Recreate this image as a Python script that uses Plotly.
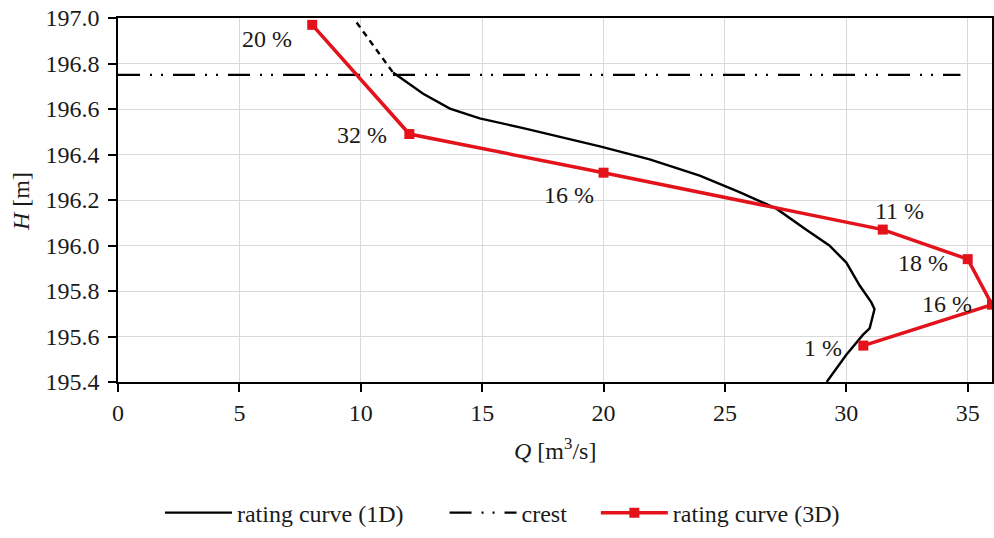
import plotly.graph_objects as go

# ---- data ----
# 1D rating curve (solid part) : discharge Q [m3/s], water level H [m]
q_1d = [11.33, 12.57, 13.67, 14.9, 16.69, 18.47, 19.85, 21.9, 23.96, 25.6,
        27.12, 28.35, 29.3, 30.0, 30.55, 31.03, 31.16, 30.96, 30.69, 30.0, 29.19]
h_1d = [196.76, 196.667, 196.602, 196.559, 196.516, 196.472, 196.436, 196.379,
        196.307, 196.235, 196.162, 196.069, 196.0, 195.925, 195.824, 195.75,
        195.72, 195.636, 195.608, 195.52, 195.40]
# 1D rating curve extension above crest (dashed)
q_1d_ext = [9.83, 11.33]
h_1d_ext = [196.98, 196.76]
# crest level
q_crest = [0.0, 34.7]
h_crest = [196.75, 196.75]
# 3D rating curve
q_3d = [8.0, 12.0, 20.0, 31.5, 35.0, 36.0, 30.7]
h_3d = [196.97, 196.49, 196.32, 196.07, 195.94, 195.74, 195.56]
labels_3d = ["20 %", "32 %", "16 %", "11 %", "18 %", "16 %", "1 %"]

x_ticks = [0, 5, 10, 15, 20, 25, 30, 35]
y_ticks = [195.4, 195.6, 195.8, 196.0, 196.2, 196.4, 196.6, 196.8, 197.0]

# label offsets in pixels (style)
lab_dx = [-45, -47, -35, 17, -45, -45, -40]
lab_dy = [-14, -1, -22, 19, -4, 1, -2]

FONT = "Liberation Serif"
FS = 24
RED = "#e3121b"
TXT = "#1a1a1a"
NB = "\u00a0"

fig = go.Figure()
fig.add_trace(go.Scatter(x=q_1d, y=h_1d, mode="lines", name="rating curve (1D)" + NB * 6,
                         line=dict(color="black", width=2.4)))
fig.add_trace(go.Scatter(x=q_1d_ext, y=h_1d_ext, mode="lines", showlegend=False,
                         line=dict(color="black", width=2.4, dash="6px,5px")))
fig.add_trace(go.Scatter(x=q_crest, y=h_crest, mode="lines", name="crest" + NB * 4,
                         line=dict(color="black", width=2.2,
                                   dash="22px,10px,2px,9px,2px,10px")))
fig.add_trace(go.Scatter(x=q_3d, y=h_3d, mode="lines+markers", name="rating curve (3D)",
                         line=dict(color=RED, width=3.5),
                         marker=dict(symbol="square", size=10, color=RED),
                         cliponaxis=False))

for q, h, t, dx, dy in zip(q_3d, h_3d, labels_3d, lab_dx, lab_dy):
    fig.add_annotation(x=q, y=h, text=t, showarrow=False, xshift=dx, yshift=dy,
                       xanchor="center", yanchor="middle",
                       font=dict(family=FONT, size=FS, color=TXT))

axis_common = dict(showline=True, linecolor="black", linewidth=1.5, mirror=True,
                   showgrid=True, gridcolor="#d9d9d9", gridwidth=1,
                   ticks="outside", ticklen=8, tickcolor="black", tickwidth=1.5,
                   tickfont=dict(family=FONT, size=FS, color=TXT), zeroline=False,
                   automargin=False)

fig.update_layout(
    width=994, height=538,
    margin=dict(l=118, r=2, t=18, b=150),
    paper_bgcolor="white", plot_bgcolor="white",
    xaxis=dict(range=[0, 36], tickvals=x_ticks, **axis_common),
    yaxis=dict(range=[195.4, 197.0], tickvals=y_ticks, tickformat=".1f",
               ticklabelstandoff=4, **axis_common),
    xaxis2=dict(range=[0, 36], overlaying="x", anchor="y", side="bottom",
                tickvals=x_ticks, ticks="inside", ticklen=6, tickcolor="black",
                tickwidth=1.5, showticklabels=False, showgrid=False, showline=False,
                zeroline=False, automargin=False),
    yaxis2=dict(range=[195.4, 197.0], overlaying="y", anchor="x", side="left",
                tickvals=y_ticks, ticks="inside", ticklen=8, tickcolor="black",
                tickwidth=1.5, showticklabels=False, showgrid=False, showline=False,
                zeroline=False, automargin=False),
    showlegend=True,
    legend=dict(orientation="h", x=0.048, xanchor="left", y=-0.36, yanchor="middle",
                font=dict(family=FONT, size=FS, color=TXT), bgcolor="rgba(0,0,0,0)",
                itemwidth=67),
)

fig.add_annotation(xref="paper", yref="paper", x=-0.111, y=0.497, textangle=-90,
                   xanchor="center", yanchor="middle",
                   text="<i>H</i> [m]", showarrow=False,
                   font=dict(family=FONT, size=FS, color=TXT))
fig.add_annotation(xref="paper", yref="paper", x=0.5, y=-0.183,
                   xanchor="center", yanchor="middle",
                   text="<i>Q</i> [m<sup>3</sup>/s]", showarrow=False,
                   font=dict(family=FONT, size=FS, color=TXT))

fig.write_html("out.html", config={"displayModeBar": False},
               post_script="document.body.style.margin='0';document.body.style.padding='0';")
